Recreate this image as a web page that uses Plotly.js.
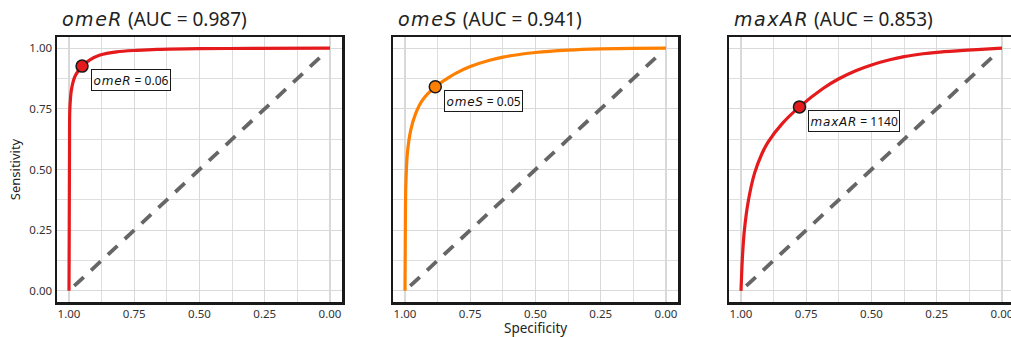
<!DOCTYPE html>
<html><head><meta charset="utf-8">
<script src="https://cdn.plot.ly/plotly-3.0.1.min.js"></script>
<style>html,body{margin:0;padding:0;overflow:hidden;background:#fff;width:1011px;height:337px}</style>
</head><body><div id="chart"></div>
<script>
// ---- data ----
const omeR_spec = [1.0, 0.999, 0.998, 0.997, 0.991, 0.978, 0.965, 0.95, 0.92, 0.881, 0.817, 0.74, 0.662, 0.5, 0.3, 0.0];
const omeR_sens = [0.0, 0.3, 0.6, 0.745, 0.827, 0.882, 0.906, 0.926, 0.952, 0.972, 0.985, 0.991, 0.995, 0.998, 0.999, 1.0];
const omeS_spec = [1.0, 0.999, 0.997, 0.991, 0.978, 0.959, 0.933, 0.884, 0.83, 0.804, 0.75, 0.676, 0.625, 0.5, 0.375, 0.25, 0.125, 0.0];
const omeS_sens = [0.0, 0.2, 0.429, 0.566, 0.662, 0.731, 0.786, 0.841, 0.881, 0.897, 0.924, 0.950, 0.963, 0.982, 0.992, 0.997, 0.999, 1.0];
const maxAR_spec = [1.0, 0.995, 0.987, 0.972, 0.948, 0.92, 0.897, 0.843, 0.776, 0.686, 0.625, 0.558, 0.5, 0.43, 0.375, 0.302, 0.25, 0.173, 0.096, 0.0];
const maxAR_sens = [0.0, 0.13, 0.25, 0.37, 0.485, 0.565, 0.612, 0.688, 0.758, 0.834, 0.874, 0.908, 0.931, 0.952, 0.965, 0.977, 0.983, 0.989, 0.994, 1.0];
const diag_spec = [0.98, 0.02];
const diag_sens = [0.02, 0.98];
const names = ["omeR", "omeS", "maxAR"];
const aucs = ["0.987", "0.941", "0.853"];
const cutoffs = ["0.06", "0.05", "1140"];
const best_spec = [0.95, 0.884, 0.776];
const best_sens = [0.926, 0.841, 0.758];
const colors = ["#E41A1C", "#FF7F00", "#E41A1C"];
const tickVals = [1.0, 0.75, 0.5, 0.25, 0.0];
const tickText = ["1.00", "0.75", "0.50", "0.25", "0.00"];
const minorVals = [0.875, 0.625, 0.375, 0.125];
const xTitle = "Specificity";
const yTitle = "Sensitivity";

const specs = [omeR_spec, omeS_spec, maxAR_spec];
const senss = [omeR_sens, omeS_sens, maxAR_sens];

const W = 1020, plotL = 57, plotR = 6;
const pw = W - plotL - plotR;
const doms = [[0, 285/pw], [336/pw, 621/pw], [672/pw, 1]];

const traces = [];
const annotations = [];
const layout = {
  width: W, height: 337,
  margin: {l: plotL, r: plotR, t: 37, b: 35},
  paper_bgcolor: "#fff", plot_bgcolor: "#fff",
  showlegend: false,
  font: {family: "Noto Sans, sans-serif", size: 11, color: "#222"},
  annotations: annotations
};
const mathFont = "DejaVu Sans";
for (let i = 0; i < 3; i++) {
  const xa = i === 0 ? "x" : "x" + (i + 1);
  const ya = i === 0 ? "y" : "y" + (i + 1);
  traces.push({x: diag_spec, y: diag_sens, xaxis: xa, yaxis: ya, mode: "lines",
    line: {color: "#666666", width: 3.8, dash: "13px,10px"}, hoverinfo: "skip"});
  traces.push({x: specs[i], y: senss[i], xaxis: xa, yaxis: ya, mode: "lines",
    line: {color: colors[i], width: 3.2, shape: "spline", smoothing: 0.8}});
  traces.push({x: [best_spec[i]], y: [best_sens[i]], xaxis: xa, yaxis: ya, mode: "markers",
    marker: {color: colors[i], size: 12, line: {color: "#1a1a1a", width: 1.5}}});
  const axKey = i === 0 ? "xaxis" : "xaxis" + (i + 1);
  const ayKey = i === 0 ? "yaxis" : "yaxis" + (i + 1);
  layout[axKey] = {
    domain: doms[i], anchor: ya, range: [1.046, -0.046],
    tickvals: tickVals, ticktext: tickText, ticks: "",
    showgrid: true, gridcolor: "#d9d9d9", gridwidth: 1.1, zeroline: false,
    minor: {tickvals: minorVals, showgrid: true, gridcolor: "#dedede", gridwidth: 1.1, ticks: ""},
    showline: true, mirror: true, linecolor: "#1a1a1a", linewidth: 2.5,
    tickfont: {size: 11.5, color: "#333"},
    title: {text: ""}
  };
  layout[ayKey] = {
    domain: [0, 1], anchor: xa, range: [-0.046, 1.046],
    tickvals: tickVals, ticktext: tickText, ticks: "",
    showticklabels: i === 0,
    showgrid: true, gridcolor: "#d9d9d9", gridwidth: 1.1, zeroline: false,
    minor: {tickvals: minorVals, showgrid: true, gridcolor: "#dedede", gridwidth: 1.1, ticks: ""},
    showline: true, mirror: true, linecolor: "#1a1a1a", linewidth: 2.5,
    tickfont: {size: 11.5, color: "#333"},
    title: i === 0 ? {text: yTitle, font: {size: 13, color: "#222"}, standoff: 6} : {text: ""}
  };
  annotations.push({
    xref: xa + " domain", yref: ya + " domain", x: 0, y: 1,
    xanchor: "left", yanchor: "bottom", xshift: 3, yshift: 3, showarrow: false,
    text: '<span style="font-family:' + mathFont + ';font-style:italic;letter-spacing:1.5px">' + names[i] + '</span> (AUC = ' + aucs[i] + ')',
    font: {size: 19, color: "#222", weight: 400}
  });
  annotations.push({
    xref: xa, yref: ya, x: best_spec[i], y: best_sens[i],
    xanchor: "left", yanchor: "top", xshift: 9, yshift: -3, showarrow: false,
    text: '<span style="font-family:' + mathFont + ';font-style:italic;letter-spacing:0.8px">' + names[i] + '</span> = ' + cutoffs[i],
    font: {size: 12, color: "#111"},
    bgcolor: "#fff", bordercolor: "#1a1a1a", borderwidth: 1, borderpad: 1.5
  });
}
// shared x-axis title under the middle panel
annotations.push({
  xref: "x2 domain", yref: "paper", x: 0.5, y: 0,
  xanchor: "center", yanchor: "top", yshift: -15, showarrow: false,
  text: xTitle, font: {size: 13.5, color: "#222"}
});
Plotly.newPlot("chart", traces, layout, {displayModeBar: false, staticPlot: true});
</script></body></html>
